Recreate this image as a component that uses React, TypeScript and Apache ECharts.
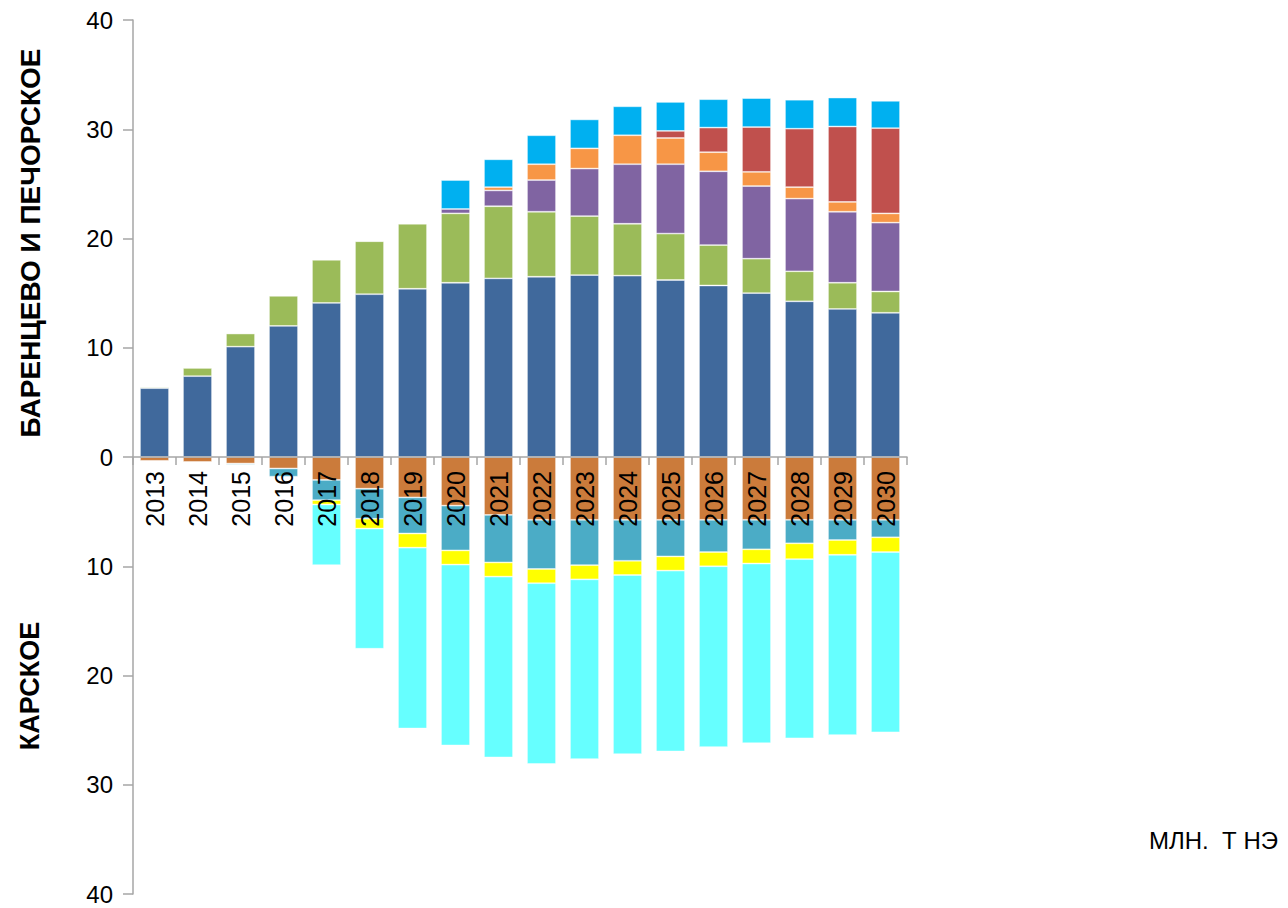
import React, { useEffect, useRef } from "react";
import * as echarts from "echarts";

const years = ["2013","2014","2015","2016","2017","2018","2019","2020","2021","2022","2023","2024","2025","2026","2027","2028","2029","2030"];

// Barents & Pechora (positive)
const blueVals = [6.3, 7.4, 10.1, 12.0, 14.1, 14.9, 15.4, 15.95, 16.35, 16.5, 16.65, 16.6, 16.2, 15.7, 15.0, 14.25, 13.55, 13.2];
const greenVals = [0.1, 0.75, 1.2, 2.75, 3.95, 4.85, 5.95, 6.35, 6.6, 5.95, 5.4, 4.75, 4.25, 3.7, 3.15, 2.75, 2.4, 1.95];
const purpleVals = [0, 0, 0, 0, 0, 0, 0, 0.4, 1.45, 2.9, 4.35, 5.45, 6.35, 6.75, 6.65, 6.65, 6.5, 6.3];
const orangeVals = [0, 0, 0, 0, 0, 0, 0, 0, 0.3, 1.45, 1.85, 2.65, 2.4, 1.75, 1.3, 1.05, 0.9, 0.85];
const redVals = [0, 0, 0, 0, 0, 0, 0, 0, 0, 0, 0, 0, 0.65, 2.25, 4.1, 5.35, 6.9, 7.8];
const skyVals = [0, 0, 0, 0, 0, 0, 0, 2.65, 2.55, 2.65, 2.65, 2.65, 2.65, 2.6, 2.65, 2.65, 2.65, 2.5];

// Kara (negative)
const brownVals = [-0.35, -0.45, -0.6, -1.05, -2.1, -2.9, -3.7, -4.45, -5.3, -5.75, -5.75, -5.75, -5.75, -5.75, -5.75, -5.75, -5.75, -5.75];
const tealVals = [0, 0, -0.1, -0.75, -1.85, -2.75, -3.3, -4.1, -4.35, -4.5, -4.15, -3.75, -3.35, -2.95, -2.7, -2.15, -1.85, -1.6];
const yellowVals = [0, 0, 0, 0, -0.4, -0.9, -1.3, -1.3, -1.3, -1.3, -1.3, -1.3, -1.3, -1.3, -1.3, -1.45, -1.35, -1.35];
const cyanVals = [0, 0, 0, 0, -5.55, -11.0, -16.55, -16.55, -16.55, -16.55, -16.45, -16.4, -16.55, -16.55, -16.45, -16.4, -16.5, -16.5];

const yTicks = [-40, -30, -20, -10, 0, 10, 20, 30, 40];

const seriesDefs = [
  { name: "blue", data: blueVals, color: "#40699C" },
  { name: "green", data: greenVals, color: "#9BBB59" },
  { name: "purple", data: purpleVals, color: "#8064A2" },
  { name: "orange", data: orangeVals, color: "#F79646" },
  { name: "red", data: redVals, color: "#C0504D" },
  { name: "sky", data: skyVals, color: "#00B0F0" },
  { name: "brown", data: brownVals, color: "#CB7B3B" },
  { name: "teal", data: tealVals, color: "#4BACC6" },
  { name: "yellow", data: yellowVals, color: "#FFFF00" },
  { name: "cyan", data: cyanVals, color: "#66FFFF" },
];

const FONT = "Arial, 'Liberation Sans', sans-serif";
const GRID_TOP = 20;
const GRID_BOTTOM = 14;
const H = 908;

export default function App() {
  const ref = useRef<HTMLDivElement>(null);
  useEffect(() => {
    if (!ref.current) return;
    const chart = echarts.init(ref.current, null, { renderer: "svg" });
    const plotH = H - GRID_TOP - GRID_BOTTOM;
    const yMin = yTicks[0];
    const yMax = yTicks[yTicks.length - 1];
    // move the category axis (line, ticks, labels) up to the zero value
    const zeroOffset = -plotH * (0 - yMin) / (yMax - yMin);
    chart.setOption({
      animation: false,
      backgroundColor: "#ffffff",
      grid: { left: 133, right: 381, top: GRID_TOP, bottom: GRID_BOTTOM, containLabel: false, outerBoundsMode: "none" },
      xAxis: {
        type: "category",
        data: years,
        offset: zeroOffset,
        axisLine: { onZero: false, lineStyle: { color: "#a6a6a6", width: 1.5 } },
        axisTick: { show: true, length: 8, alignWithLabel: false, lineStyle: { color: "#a6a6a6", width: 1.5 } },
        axisLabel: { rotate: 90, margin: 14, fontSize: 25, color: "#000", fontFamily: FONT, interval: 0 },
        z: 5,
      },
      yAxis: {
        type: "value",
        min: yMin,
        max: yMax,
        interval: 10,
        splitLine: { show: false },
        axisLine: { show: true, lineStyle: { color: "#a6a6a6", width: 1.5 } },
        axisTick: { show: true, length: 10, lineStyle: { color: "#a6a6a6", width: 1.5 } },
        axisLabel: {
          margin: 20,
          fontSize: 24,
          color: "#000",
          fontFamily: FONT,
          formatter: (v: number) => String(Math.abs(v)),
        },
      },
      series: seriesDefs.map((s) => ({
        name: s.name,
        type: "bar",
        stack: "total",
        barWidth: 29,
        z: 2,
        data: s.data.map((v) => (v === 0 ? null : v)),
        itemStyle: { color: s.color, borderColor: "rgba(255,255,255,0.55)", borderWidth: 0.8 },
      })),
      graphic: [
        {
          type: "text",
          x: 30,
          y: 243,
          rotation: Math.PI / 2,
          style: {
            text: "БАРЕНЦЕВО И ПЕЧОРСКОЕ",
            font: `bold 28px ${FONT}`,
            fill: "#000",
            align: "center",
            verticalAlign: "middle",
          },
        },
        {
          type: "text",
          x: 30,
          y: 686,
          rotation: Math.PI / 2,
          style: {
            text: "КАРСКОЕ",
            font: `bold 27px ${FONT}`,
            fill: "#000",
            align: "center",
            verticalAlign: "middle",
          },
        },
        {
          type: "text",
          x: 1278,
          y: 840,
          style: {
            text: "МЛН.  Т НЭ",
            font: `24px ${FONT}`,
            fill: "#000",
            align: "right",
            verticalAlign: "middle",
          },
        },
      ],
    });
    return () => chart.dispose();
  }, []);
  return (
    <div
      ref={ref}
      style={{ position: "fixed", left: 0, top: 0, width: 1288, height: 908, background: "#fff" }}
    />
  );
}
